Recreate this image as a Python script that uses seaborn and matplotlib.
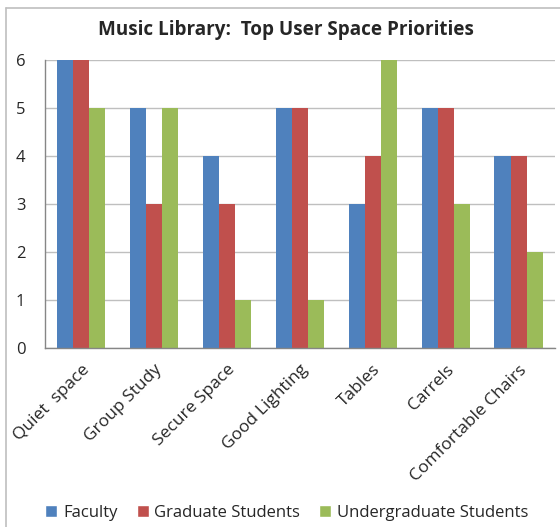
import pandas as pd
import seaborn as sns
import matplotlib.pyplot as plt
from matplotlib.lines import Line2D

# Dados
categorias = ['Quiet  space', 'Group Study', 'Secure Space', 'Good Lighting',
              'Tables', 'Carrels', 'Comfortable Chairs']
grupos = ['Faculty', 'Graduate Students', 'Undergraduate Students']
faculty = [6, 5, 4, 5, 3, 5, 4]
graduate = [6, 3, 3, 5, 4, 5, 4]
undergraduate = [5, 5, 1, 1, 6, 3, 2]
cores = ['#4F81BD', '#C0504D', '#9BBB59']

df = pd.DataFrame({
    'categoria': categorias * 3,
    'grupo': [grupos[0]] * 7 + [grupos[1]] * 7 + [grupos[2]] * 7,
    'valor': faculty + graduate + undergraduate,
})

sns.set_style('white')
plt.rcParams['font.family'] = ['Open Sans', 'DejaVu Sans']

fig = plt.figure(figsize=(5.6, 5.27), dpi=100)
ax = fig.add_axes([0.080, 0.3397, 0.911, 0.5466])

sns.barplot(data=df, x='categoria', y='valor', hue='grupo', order=categorias,
            hue_order=grupos, palette=cores, width=0.66, gap=0, saturation=1,
            linewidth=0, ax=ax, legend=False)

ax.set_ylim(0, 6)
ax.set_yticks(range(0, 7))
ax.set_xlim(-0.5, 6.5)
ax.yaxis.grid(True, color='#BFBFBF', linewidth=1)
ax.set_axisbelow(True)
ax.set_xlabel('')
ax.set_ylabel('')
ax.tick_params(axis='both', length=0)
ax.tick_params(axis='y', labelsize=12, pad=14)
ax.tick_params(axis='x', labelsize=12.5, pad=10)
plt.setp(ax.get_xticklabels(), rotation=45, ha='right', rotation_mode='anchor')
for s in ['top', 'right']:
    ax.spines[s].set_visible(False)
for s in ['left', 'bottom']:
    ax.spines[s].set_color('#868686')
    ax.spines[s].set_linewidth(1)

fig.text(0.51, 0.943, 'Music Library:  Top User Space Priorities',
         ha='center', va='center', fontsize=13.6, fontweight='bold')

handles = [Line2D([0], [0], marker='s', color='w', markerfacecolor=c,
                  markersize=9, linestyle='') for c in cores]
fig.legend(handles, grupos, loc='center', bbox_to_anchor=(0.51, 0.026),
           ncol=3, frameon=False, fontsize=12, handletextpad=0.2,
           columnspacing=1.0, handlelength=1.0)

# moldura do gráfico (só esquerda e topo visíveis)
fig.add_artist(Line2D([0.011, 0.011], [0, 0.985], color='#BFBFBF', lw=1.2))
fig.add_artist(Line2D([0.011, 1.0], [0.985, 0.985], color='#BFBFBF', lw=1.2))

fig.savefig('out.png', dpi=100)
